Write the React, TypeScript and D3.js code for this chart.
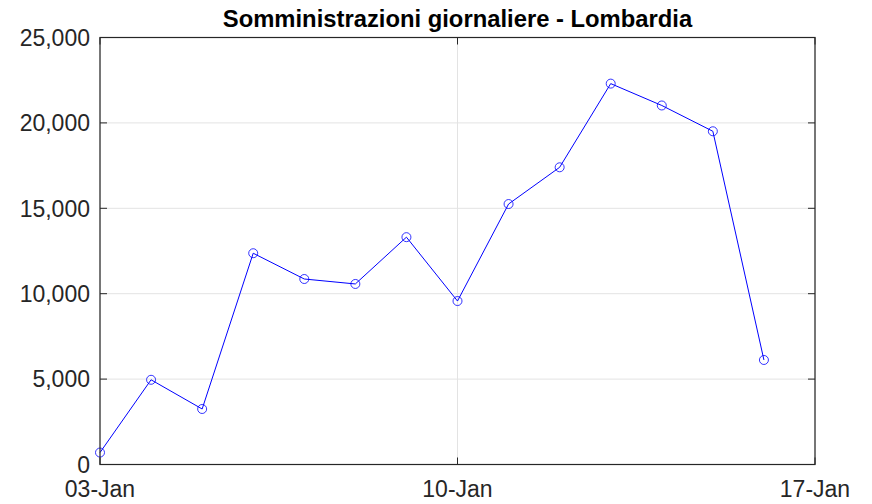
import React from 'react';
import * as d3 from 'd3';

// daily administrations, 3 Jan .. 16 Jan
const days = ['2021-01-03', '2021-01-04', '2021-01-05', '2021-01-06', '2021-01-07', '2021-01-08', '2021-01-09',
    '2021-01-10', '2021-01-11', '2021-01-12', '2021-01-13', '2021-01-14', '2021-01-15', '2021-01-16'];
const doses = [700, 4960, 3250, 12370, 10860, 10570, 13310, 9570, 15250, 17400, 22300, 21020, 19510, 6120];
const xTicks = ['2021-01-03', '2021-01-10', '2021-01-17'];
const yTicks = [0, 5000, 10000, 15000, 20000, 25000];

const title = 'Somministrazioni giornaliere - Lombardia';

const W = 872;
const H = 504;
const margin = { top: 37.5, right: 57, bottom: 39.5, left: 100 };
const font = '"Liberation Sans", Arial, Helvetica, sans-serif';

const parse = d3.timeParse('%Y-%m-%d');
const fmtDay = d3.timeFormat('%d-%b');
const fmtNum = d3.format(',');

export default function App() {
    const x = d3.scaleTime()
        .domain([parse(xTicks[0])!, parse(xTicks[2])!])
        .range([margin.left, W - margin.right]);
    const y = d3.scaleLinear()
        .domain([0, 25000])
        .range([H - margin.bottom, margin.top]);

    const points = days.map((d, i) => ({ date: parse(d)!, v: doses[i] }));
    const line = d3.line<{ date: Date; v: number }>()
        .x(d => x(d.date))
        .y(d => y(d.v));

    const x0 = margin.left;
    const x1 = W - margin.right;
    const y0 = H - margin.bottom;
    const y1 = margin.top;

    return (
        <svg width={W} height={H} style={{ position: 'absolute', left: 0, top: 0, background: '#fff' }}>
            <rect width={W} height={H} fill="#fff" />

            {/* grid */}
            <g stroke="#e3e3e3" strokeWidth={1}>
                {yTicks.map(t => (
                    <line key={t} x1={x0} x2={x1} y1={y(t)} y2={y(t)} />
                ))}
                {xTicks.map(t => (
                    <line key={t} x1={x(parse(t)!)} x2={x(parse(t)!)} y1={y0} y2={y1} />
                ))}
            </g>

            {/* series */}
            <path d={line(points) || ''} fill="none" stroke="#0000ff" strokeWidth={1} />
            <g fill="none" stroke="#0000ff" strokeWidth={0.8}>
                {points.map((p, i) => (
                    <circle key={i} cx={x(p.date)} cy={y(p.v)} r={4.5} />
                ))}
            </g>

            {/* box and ticks */}
            <rect x={x0} y={y1} width={x1 - x0} height={y0 - y1} fill="none" stroke="#262626" strokeWidth={1.2} />
            <g stroke="#262626" strokeWidth={1}>
                {yTicks.map(t => (
                    <g key={t}>
                        <line x1={x0} x2={x0 + 7} y1={y(t)} y2={y(t)} />
                        <line x1={x1} x2={x1 - 7} y1={y(t)} y2={y(t)} />
                    </g>
                ))}
                {xTicks.map(t => (
                    <g key={t}>
                        <line x1={x(parse(t)!)} x2={x(parse(t)!)} y1={y0} y2={y0 - 7} />
                        <line x1={x(parse(t)!)} x2={x(parse(t)!)} y1={y1} y2={y1 + 7} />
                    </g>
                ))}
            </g>

            {/* tick labels */}
            <g fill="#262626" fontFamily={font} fontSize={23}>
                {yTicks.map(t => (
                    <text key={t} x={x0 - 10} y={y(t)} dy="0.36em" textAnchor="end">{fmtNum(t)}</text>
                ))}
                {xTicks.map(t => (
                    <text key={t} x={x(parse(t)!)} y={y0 + 32} textAnchor="middle">{fmtDay(parse(t)!)}</text>
                ))}
            </g>

            <text x={(x0 + x1) / 2} y={27} textAnchor="middle" fontFamily={font} fontSize={23.8}
                fontWeight="bold" fill="#000">{title}</text>
        </svg>
    );
}
